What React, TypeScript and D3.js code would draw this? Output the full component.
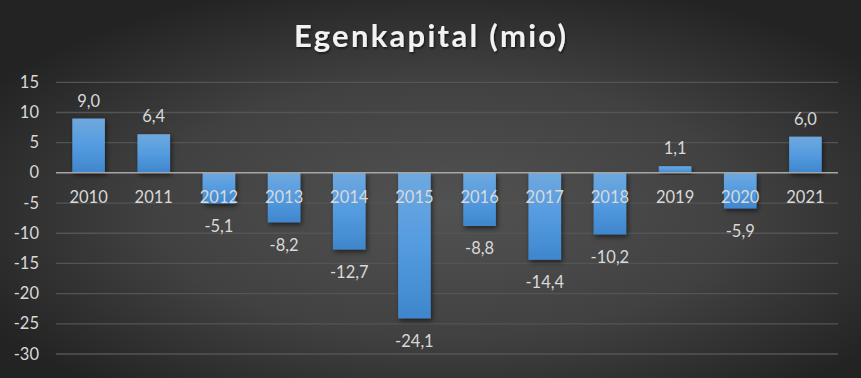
import React from "react";
import * as d3 from "d3";

const years = ["2010","2011","2012","2013","2014","2015","2016","2017","2018","2019","2020","2021"];
const values = [9.0, 6.4, -5.1, -8.2, -12.7, -24.1, -8.8, -14.4, -10.2, 1.1, -5.9, 6.0];
const yTicks = [15, 10, 5, 0, -5, -10, -15, -20, -25, -30];
const title = "Egenkapital (mio)";

const W = 861, H = 378;
const left = 56, right = 838, top = 82.3, bottom = 354;
const font = "Lato, 'Open Sans', sans-serif";
const textCol = "#d9d9d9";

export default function App() {
  const x = d3.scaleBand<string>().domain(years).range([left, right]).paddingInner(0.5).paddingOuter(0.25);
  const y = d3.scaleLinear().domain([-30, 15]).range([bottom, top]);
  const fmt = (v: number) => d3.format(".1f")(v).replace(".", ",").replace("−", "-");
  return (
    <svg width={W} height={H} style={{ position: "absolute", left: 0, top: 0, display: "block" }}>
      <defs>
        <radialGradient id="bg" cx="52%" cy="55%" r="62%" fx="52%" fy="55%">
          <stop offset="0%" stopColor="#525252" />
          <stop offset="55%" stopColor="#414141" />
          <stop offset="100%" stopColor="#232323" />
        </radialGradient>
        <linearGradient id="bar" x1="0" y1="0" x2="0" y2="1">
          <stop offset="0%" stopColor="#6fa8de" />
          <stop offset="50%" stopColor="#549be0" />
          <stop offset="100%" stopColor="#3f86cc" />
        </linearGradient>
        <filter id="sh" x="-30%" y="-30%" width="160%" height="160%">
          <feDropShadow dx="1.5" dy="2.5" stdDeviation="2.5" floodColor="#000" floodOpacity="0.55" />
        </filter>
        <filter id="tsh" x="-10%" y="-30%" width="120%" height="160%">
          <feDropShadow dx="1" dy="1.5" stdDeviation="1.2" floodColor="#000" floodOpacity="0.6" />
        </filter>
      </defs>
      <rect x={0} y={0} width={W} height={H} fill="url(#bg)" />
      <text x={430} y={47} textAnchor="middle" fill="#f2f2f2" fontFamily={font} fontWeight="bold" fontSize={31}
        textLength={272} lengthAdjust="spacing" filter="url(#tsh)">{title}</text>
      {yTicks.filter(t => t !== 0).map(t => (
        <line key={"g" + t} x1={left} x2={right} y1={y(t)} y2={y(t)} stroke="#545454" strokeWidth={1.3} />
      ))}
      {yTicks.map(t => (
        <text key={"t" + t} x={39} y={y(t) + 5.5} textAnchor="end" fill={textCol} fontFamily={font} fontSize={16.5}>{t}</text>
      ))}
      {years.map((yr, i) => {
        const v = values[i];
        const y0 = y(Math.max(0, v)), y1 = y(Math.min(0, v));
        return <rect key={"b" + yr} x={x(yr)} y={y0} width={x.bandwidth()} height={y1 - y0} fill="url(#bar)" filter="url(#sh)" />;
      })}
      <line x1={left} x2={right} y1={y(0)} y2={y(0)} stroke="#a6a6a6" strokeWidth={1.5} />
      {years.map(yr => (
        <text key={"c" + yr} x={x(yr)! + x.bandwidth() / 2} y={203} textAnchor="middle" fill={textCol} fontFamily={font} fontSize={16.5}>{yr}</text>
      ))}
      {years.map((yr, i) => {
        const v = values[i];
        const cy = v >= 0 ? y(v) - 12 : y(v) + 28.5;
        return <text key={"v" + yr} x={x(yr)! + x.bandwidth() / 2} y={cy} textAnchor="middle" fill={textCol} fontFamily={font} fontSize={16.5}>{fmt(v)}</text>;
      })}
    </svg>
  );
}
